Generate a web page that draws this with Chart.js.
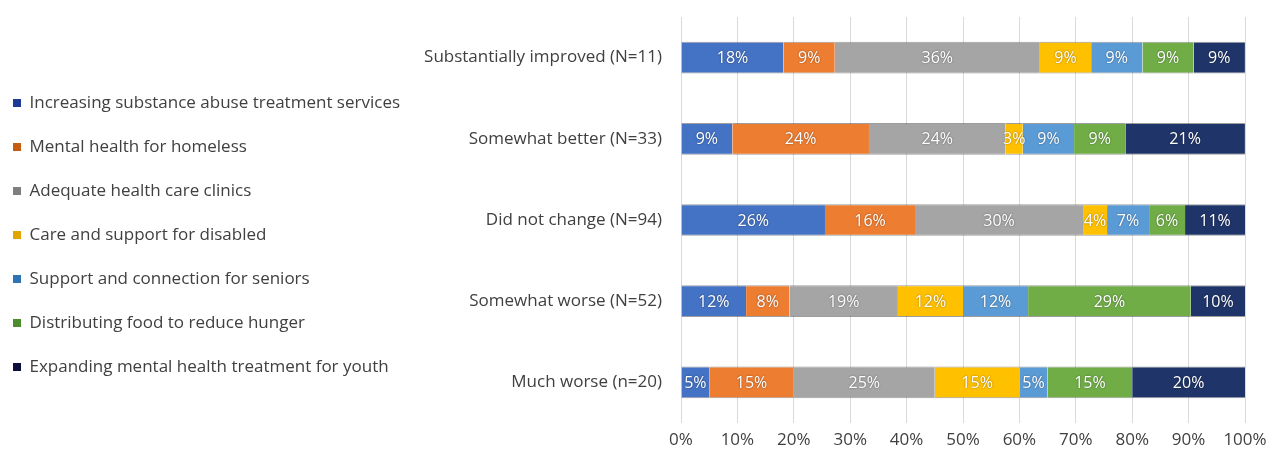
<!DOCTYPE html>
<html>
<head>
<meta charset="utf-8">
<script src="https://cdn.jsdelivr.net/npm/chart.js@4.4.1/dist/chart.umd.min.js"></script>
<style>
  html, body { margin: 0; padding: 0; background: #ffffff; }
  #wrap { width: 1278px; height: 463px; position: relative; }
</style>
</head>
<body>
<div id="wrap"><canvas id="c"></canvas></div>
<script>
// ---- Data ----
const categories = [
  "Substantially improved (N=11)",
  "Somewhat better (N=33)",
  "Did not change (N=94)",
  "Somewhat worse (N=52)",
  "Much worse (n=20)"
];
const seriesNames = [
  "Increasing substance abuse treatment services",
  "Mental health for homeless",
  "Adequate health care clinics",
  "Care and support for disabled",
  "Support and connection for seniors",
  "Distributing food to reduce hunger",
  "Expanding mental health treatment for youth"
];
const substanceAbuse = [18.18, 9.09, 25.53, 11.54, 5];
const homelessMental = [9.09, 24.24, 15.96, 7.69, 15];
const healthClinics  = [36.36, 24.24, 29.79, 19.23, 25];
const disabledCare   = [9.09, 3.03, 4.26, 11.54, 15];
const seniorsSupport = [9.09, 9.09, 7.45, 11.54, 5];
const foodHunger     = [9.09, 9.09, 6.38, 28.85, 15];
const youthMental    = [9.09, 21.21, 10.64, 9.62, 20];
const xTickValues = [0, 10, 20, 30, 40, 50, 60, 70, 80, 90, 100];

const barColors = ["#4472C4", "#ED7D31", "#A5A5A5", "#FFC000", "#5B9BD5", "#70AD47", "#1F3468"];
const legendColors = ["#1F3A93", "#C55A11", "#7F7F7F", "#E3A400", "#2E75B6", "#4E8A2E", "#0B0F3A"];
const seriesValues = [substanceAbuse, homelessMental, healthClinics, disabledCare, seniorsSupport, foodHunger, youthMental];

const FONT = "'Open Sans', 'Noto Sans', sans-serif";
const TEXT = "#404040";

const datasets = seriesNames.map((name, i) => ({
  label: name,
  data: seriesValues[i],
  backgroundColor: barColors[i],
  borderColor: "rgba(40,40,40,0.45)",
  borderWidth: { top: 1, bottom: 1, left: 0, right: 0 },
  borderSkipped: false,
  barPercentage: 0.39,
  categoryPercentage: 1.0
}));

const barLabelPlugin = {
  id: "barLabels",
  afterDatasetsDraw(chart) {
    const ctx = chart.ctx;
    ctx.save();
    ctx.font = "16px " + FONT;
    ctx.textAlign = "center";
    ctx.textBaseline = "middle";
    ctx.fillStyle = "#ffffff";
    ctx.shadowColor = "rgba(0,0,0,0.45)";
    ctx.shadowBlur = 2;
    chart.data.datasets.forEach((ds, di) => {
      const meta = chart.getDatasetMeta(di);
      meta.data.forEach((el, idx) => {
        const v = ds.data[idx];
        const cx = (el.x + el.base) / 2;
        ctx.fillText(Math.round(v) + "%", cx, el.y + 1);
      });
    });
    ctx.restore();
  }
};

const PLOT_LEFT = 681;
const PAD_LEFT = -14;

const chart = new Chart(document.getElementById("c"), {
  type: "bar",
  data: { labels: categories, datasets: datasets },
  options: {
    indexAxis: "y",
    responsive: true,
    maintainAspectRatio: false,
    animation: false,
    devicePixelRatio: 1,
    layout: { padding: { left: PAD_LEFT, right: 33, top: 17, bottom: 10 } },
    plugins: {
      tooltip: { enabled: false },
      legend: {
        position: "left",
        align: "center",
        maxWidth: 470,
        labels: {
          boxWidth: 8,
          boxHeight: 8,
          padding: 27,
          color: TEXT,
          font: { family: FONT, size: 17 },
          generateLabels(ch) {
            const items = Chart.defaults.plugins.legend.labels.generateLabels(ch);
            items.forEach((it, i) => {
              it.fillStyle = legendColors[i];
              it.strokeStyle = legendColors[i];
              it.lineWidth = 0;
            });
            return items;
          }
        }
      }
    },
    scales: {
      x: {
        stacked: true,
        min: 0,
        max: 100,
        afterBuildTicks(scale) {
          scale.ticks = xTickValues.map(v => ({ value: v }));
        },
        afterFit(scale) { scale.height = 30; },
        ticks: {
          color: TEXT,
          font: { family: FONT, size: 17 },
          padding: 7,
          callback: v => v + "%"
        },
        grid: { color: "#D9D9D9", lineWidth: 1, drawTicks: false },
        border: { display: false }
      },
      y: {
        stacked: true,
        afterFit(scale) {
          const lw = scale.chart.legend ? scale.chart.legend.width : 0;
          scale.width = PLOT_LEFT - PAD_LEFT - lw;
        },
        ticks: {
          color: TEXT,
          font: { family: FONT, size: 17 },
          padding: 0
        },
        grid: { display: false, drawTicks: true, tickLength: 19 },
        border: { display: false }
      }
    }
  },
  plugins: [barLabelPlugin]
});
</script>
</body>
</html>
